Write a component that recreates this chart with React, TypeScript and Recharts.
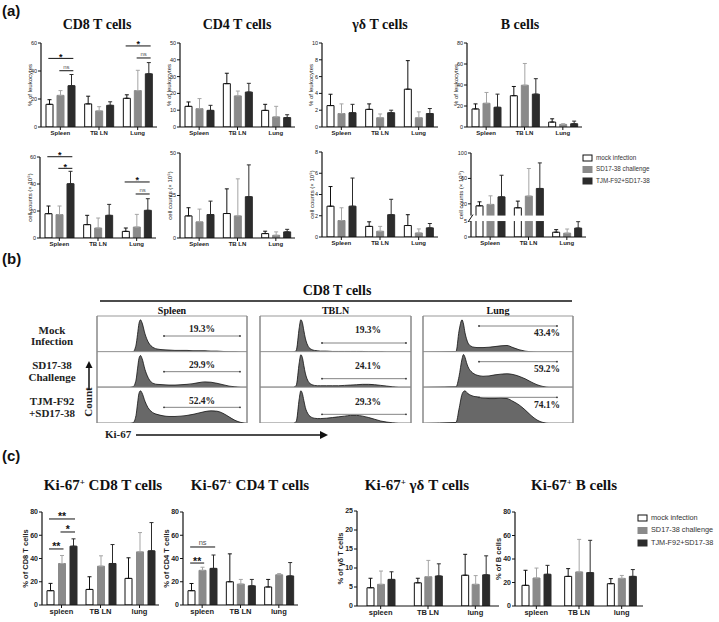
import React from "react";
import { BarChart, Bar, XAxis, YAxis, ErrorBar, AreaChart, Area } from "recharts";

const SANS = "'Liberation Sans', Arial, sans-serif";
const SERIF = "'Liberation Serif', 'Times New Roman', serif";

const groupsA = ["Spleen", "TB LN", "Lung"];
const groupsC = ["spleen", "TB LN", "lung"];
const seriesNames = ["mock infection", "SD17-38 challenge", "TJM-F92+SD17-38"];

const FILL = ["#ffffff", "#8a8a8a", "#2c2c2c"];
const STROKE = ["#111111", "#8a8a8a", "#2c2c2c"];
const ERRC = ["#111111", "#a5a5a5", "#2c2c2c"];

// (a) % of leukocytes -- rows: organ, cols: mock / SD17-38 / TJM-F92+SD17-38
const cd8Pct = [[16.2, 22.6, 29.5], [16.5, 11.5, 15.5], [20.5, 26, 38]];
const cd8PctSd = [[19.5, 26, 37.5], [22, 14.5, 18], [23, 40.5, 46]];
const cd4Pct = [[12.3, 10.9, 9.9], [25.8, 18.5, 20.8], [9.9, 6, 5.6]];
const cd4PctSd = [[14.9, 16.9, 12.9], [32, 21.4, 26], [13.5, 12.3, 7.3]];
const gdPct = [[2.55, 1.6, 1.7], [2.1, 1.1, 1.7], [4.5, 1.1, 1.6]];
const gdPctSd = [[3.9, 2.75, 2.7], [2.75, 1.55, 2.0], [7.9, 1.8, 2.2]];
const bPct = [[17.2, 22.6, 18.8], [29.8, 39.8, 31.3], [4.7, 2.5, 3.1]];
const bPctSd = [[22, 32.9, 31.3], [38.6, 60.5, 46], [7.8, 3.1, 5.6]];

// (a) cell counts
const cd8Cnt = [[18, 17.3, 40.2], [9.9, 7.4, 16.8], [4.9, 8.1, 20.5]];
const cd8CntSd = [[23.7, 23.7, 49.4], [16.8, 14.8, 24.9], [7.4, 17.5, 29.1]];
const cd4Cnt = [[13, 9.5, 13.8], [14.4, 13, 24.3], [2.6, 1.6, 3.6]];
const cd4CntSd = [[17.8, 17, 21.7], [28.9, 34.8, 43], [4, 3.6, 5.1]];
const gdCnt = [[2.9, 1.55, 2.9], [1.0, 0.54, 2.1], [1.08, 0.38, 0.86]];
const gdCntSd = [[4.75, 2.75, 5.55], [1.43, 1.0, 3.55], [2.1, 0.76, 1.27]];
const bCnt = [[16.9, 19.1, 31], [13.8, 32.2, 44.2], [1.5, 1.2, 2.8]];
const bCntSd = [[23.2, 32.6, 65], [24.3, 75.6, 84.4], [2.3, 2.5, 4.8]];

// (c) Ki-67+ fractions
const kiCd8 = [[12.3, 35.7, 50.6], [13.4, 33.4, 35.7], [22.9, 45.7, 46.6]];
const kiCd8Sd = [[18.6, 42.6, 56.9], [24.3, 42.3, 52], [40.6, 62.3, 70.9]];
const kiCd4 = [[12.3, 29.8, 31.5], [20, 18, 16.5], [15.5, 26, 25]];
const kiCd4Sd = [[18.5, 32.5, 43], [44, 22, 22], [22, 27, 36.5]];
const kiGd = [[4.8, 5.7, 7.0], [6.1, 7.7, 7.9], [8.1, 5.7, 8.2]];
const kiGdSd = [[7.3, 9.2, 9.0], [7.3, 12.0, 11.1], [13.6, 8.0, 13.2]];
const kiB = [[17.6, 23.8, 27], [25.2, 29, 28.4], [19, 23.5, 25.2]];
const kiBSd = [[30.4, 32.3, 34.6], [31.8, 56.7, 55.9], [23.3, 26, 31]];

// (b) Ki-67 histograms, x in % of the plot width, y in % of the row height
const histX = [0, 22, 24, 26, 27, 28, 29, 30, 32, 34, 36, 38, 40, 44, 48, 52, 56, 60, 64, 68, 72, 76, 80, 84, 88, 92, 96, 100];
const spleenMock = [0, 0, 1, 20, 50, 82, 92, 84, 52, 30, 18, 12, 9, 7, 6, 5, 5, 5, 4, 4, 4, 3, 3, 2, 1, 1, 0, 0];
const spleenSd = [0, 0, 1, 20, 52, 82, 90, 82, 50, 28, 15, 10, 8, 7, 6, 6, 7, 8, 10, 13, 15, 14, 11, 7, 3, 1, 0, 0];
const spleenTjm = [0, 0, 1, 22, 55, 85, 92, 86, 62, 44, 34, 28, 25, 21, 19, 19, 20, 22, 25, 29, 33, 35, 34, 28, 18, 8, 2, 0];
const lnMock = [0, 0, 5, 70, 92, 85, 62, 40, 16, 8, 5, 4, 3, 3, 2, 2, 2, 2, 2, 2, 1, 1, 1, 0, 0, 0, 0, 0];
const lnSd = [0, 0, 5, 70, 92, 85, 62, 40, 16, 8, 5, 4, 4, 4, 4, 4, 5, 6, 7, 8, 8, 7, 5, 3, 1, 0, 0, 0];
const lnTjm = [0, 0, 5, 70, 92, 85, 65, 45, 25, 17, 14, 13, 13, 14, 16, 18, 20, 22, 22, 20, 16, 11, 6, 3, 1, 0, 0, 0];
const lungMock = [0, 2, 60, 92, 80, 55, 38, 26, 17, 14, 13, 13, 13, 14, 16, 18, 19, 13, 7, 3, 1, 0, 0, 0, 0, 0, 0, 0];
const lungSd = [0, 1, 30, 80, 93, 85, 70, 58, 45, 38, 34, 32, 31, 32, 35, 37, 38, 36, 31, 24, 15, 7, 2, 0, 0, 0, 0, 0];
const lungTjm = [0, 2, 40, 82, 90, 92, 88, 84, 79, 76, 75, 73, 71, 70, 70, 71, 70, 62, 52, 38, 22, 9, 2, 0, 0, 0, 0, 0];
const gatePct = [["19.3%", "29.9%", "52.4%"], ["19.3%", "24.1%", "29.3%"], ["43.4%", "59.2%", "74.1%"]];

type Note = { k: number; a: number; b: number; v: number; t: string };
type PanelProps = {
  x: number; y: number; w: number; h: number;
  max: number; ticks: number[]; tickText?: string[];
  yLabel: string; cats: string[];
  mean: number[][]; sd: number[][];
  notes?: Note[]; fs: number; bold?: boolean; labelGap: number;
  gap?: number; map?: (v: number) => number; brk?: [number, number];
};

const YW = 34, PT = 14, PR = 6, XH = 16, BAR = 7;

function BarPanel(p: PanelProps) {
  const f = p.map || ((v: number) => v);
  const gap = p.gap ?? 4;
  const rows = p.cats.map((c, k) => {
    const r: Record<string, any> = { name: c };
    for (let i = 0; i < 3; i++) {
      const m = f(p.mean[k][i]);
      r["v" + i] = m;
      r["e" + i] = [0, f(p.sd[k][i]) - m];
    }
    return r;
  });
  const band = p.w / 3;
  const cx = (k: number, i: number) => YW + band * (k + 0.5) + (i - 1) * (BAR + gap);
  const py = (u: number) => PT + p.h * (1 - u / p.max);
  const fw = p.bold ? "bold" : "normal";
  const cw = YW + p.w + PR;
  const ch = PT + p.h + XH;
  return (
    <div style={{ position: "absolute", left: p.x - YW, top: p.y - PT, width: cw, height: ch }}>
      <BarChart width={cw} height={ch} data={rows} margin={{ top: PT, right: PR, bottom: 0, left: 0 }} barSize={BAR} barGap={gap}>
        <XAxis
          dataKey="name"
          height={XH}
          interval={0}
          tickSize={3}
          tickMargin={1}
          axisLine={{ stroke: "#111", strokeWidth: 1.2 }}
          tickLine={{ stroke: "#111" }}
          tick={{ fontSize: p.fs, fontWeight: "bold", fill: "#222", fontFamily: SANS }}
        />
        <YAxis
          width={YW}
          domain={[0, p.max]}
          ticks={p.ticks}
          interval={0}
          allowDataOverflow
          tickSize={3}
          tickMargin={1}
          axisLine={{ stroke: "#111", strokeWidth: 1.2 }}
          tickLine={{ stroke: "#111" }}
          tick={{ fontSize: p.fs - 0.5, fontWeight: fw, fill: "#222", fontFamily: SANS }}
          tickFormatter={(v: number) => (p.tickText ? p.tickText[p.ticks.indexOf(v)] : String(v))}
        />
        {[0, 1, 2].map((i) => (
          <Bar key={i} dataKey={"v" + i} fill={FILL[i]} stroke={STROKE[i]} strokeWidth={1} isAnimationActive={false}>
            <ErrorBar dataKey={"e" + i} width={2} stroke={ERRC[i]} strokeWidth={1} direction="y" isAnimationActive={false} />
          </Bar>
        ))}
      </BarChart>
      <svg width={cw} height={ch} style={{ position: "absolute", left: 0, top: 0, overflow: "visible", pointerEvents: "none" }}>
        {p.brk && (
          <g>
            <rect x={YW - 4} y={py(p.brk[1])} width={p.w + 2} height={py(p.brk[0]) - py(p.brk[1])} fill="#fff" />
            <line x1={YW - 3} y1={py(p.brk[0]) + 1} x2={YW + 2} y2={py(p.brk[1]) - 1} stroke="#111" strokeWidth={1} />
          </g>
        )}
        <text
          transform={`translate(${YW - p.labelGap},${PT + p.h / 2}) rotate(-90)`}
          textAnchor="middle"
          dominantBaseline="middle"
          fontSize={p.fs}
          fontWeight={fw}
          fontFamily={SANS}
          fill="#222"
        >
          {p.yLabel}
        </text>
        {(p.notes || []).map((n, j) => {
          const x1 = cx(n.k, n.a) - 1;
          const x2 = cx(n.k, n.b) + 2;
          const yy = py(n.v);
          const ns = n.t === "ns";
          return (
            <g key={j}>
              <line x1={x1} x2={x2} y1={yy} y2={yy} stroke="#111" strokeWidth={1} />
              <text
                x={(x1 + x2) / 2}
                y={ns ? yy - 2 : yy + 1.5}
                textAnchor="middle"
                fontSize={ns ? p.fs : p.fs + 3}
                fontWeight={ns ? "normal" : "bold"}
                fontFamily={SANS}
                fill={ns ? "#555" : "#111"}
              >
                {n.t}
              </text>
            </g>
          );
        })}
      </svg>
    </div>
  );
}

function Hist({ x, y, w, h, vals }: { x: number; y: number; w: number; h: number; vals: number[] }) {
  const data = histX.map((xx, i) => ({ x: xx, y: vals[i] }));
  return (
    <div style={{ position: "absolute", left: x, top: y }}>
      <AreaChart width={w} height={h} data={data} margin={{ top: 0, right: 0, bottom: 0, left: 0 }}>
        <XAxis dataKey="x" type="number" domain={[0, 100]} hide />
        <YAxis domain={[0, 100]} hide />
        <Area type="monotone" dataKey="y" stroke="#111" strokeWidth={0.8} fill="#686868" fillOpacity={1} isAnimationActive={false} />
      </AreaChart>
    </div>
  );
}

function Key({ x, y, dy, fs }: { x: number; y: number; dy: number; fs: number }) {
  return (
    <g>
      {seriesNames.map((n, i) => (
        <g key={n}>
          <rect x={x} y={y + i * dy - 3} width={9} height={6} fill={FILL[i]} stroke={STROKE[i]} strokeWidth={1} />
          <text x={x + 13} y={y + i * dy} fontSize={fs} dominantBaseline="middle" fontFamily={SANS} fill="#333">
            {n}
          </text>
        </g>
      ))}
    </g>
  );
}

// broken axis for B cell counts: 0-5 below the break, 20-100 above it
const bMap = (v: number) => (v <= 5 ? v * 3.2 : 20.5 + v * 0.6375);

const histCols = [
  { x: 97, w: 150, name: "Spleen", rows: [spleenMock, spleenSd, spleenTjm] },
  { x: 260, w: 151, name: "TBLN", rows: [lnMock, lnSd, lnTjm] },
  { x: 423, w: 150, name: "Lung", rows: [lungMock, lungSd, lungTjm] },
];
const ROW0 = 316, RH = 35.67;

export default function App() {
  const title = (t: React.ReactNode, cx: number, cy: number, fs: number) => (
    <div
      style={{
        position: "absolute", left: cx - 100, top: cy - fs * 0.6, width: 200, textAlign: "center",
        fontFamily: SERIF, fontWeight: "bold", fontSize: fs, lineHeight: 1.2 + "", color: "#111", whiteSpace: "nowrap",
      }}
    >
      {t}
    </div>
  );
  const sup = <sup style={{ fontSize: "0.6em", verticalAlign: "0.55em" }}>+</sup>;
  return (
    <div style={{ position: "absolute", left: 0, top: 0, width: 719, height: 622, background: "#fff", overflow: "hidden" }}>
      {title("CD8 T cells", 97, 25, 14)}
      {title("CD4 T cells", 237, 25, 14)}
      {title("γδ T cells", 380, 25, 14)}
      {title("B cells", 520, 25, 14)}

      <BarPanel x={41} y={43} w={116} h={84} max={60} ticks={[0, 20, 40, 60]} yLabel="% of leukocytes" cats={groupsA}
        mean={cd8Pct} sd={cd8PctSd} fs={6} labelGap={11}
        notes={[{ k: 0, a: 0, b: 2, v: 49, t: "*" }, { k: 0, a: 1, b: 2, v: 40.2, t: "ns" }, { k: 2, a: 0, b: 2, v: 57.9, t: "*" }, { k: 2, a: 1, b: 2, v: 49.3, t: "ns" }]} />
      <BarPanel x={180} y={43} w={115} h={84} max={50} ticks={[0, 10, 20, 30, 40, 50]} yLabel="% of leukocytes" cats={groupsA}
        mean={cd4Pct} sd={cd4PctSd} fs={6} labelGap={11} />
      <BarPanel x={322} y={43} w={116} h={84} max={10} ticks={[0, 2, 4, 6, 8, 10]} yLabel="% of leukocytes" cats={groupsA}
        mean={gdPct} sd={gdPctSd} fs={6} labelGap={11} />
      <BarPanel x={467} y={43} w={115} h={84} max={80} ticks={[0, 20, 40, 60, 80]} yLabel="% of leukocytes" cats={groupsA}
        mean={bPct} sd={bPctSd} fs={6} labelGap={11} />

      <BarPanel x={40} y={157} w={116} h={81} max={60} ticks={[0, 20, 40, 60]} yLabel="cell counts (× 10⁵)" cats={groupsA}
        mean={cd8Cnt} sd={cd8CntSd} fs={6} labelGap={10}
        notes={[{ k: 0, a: 0, b: 2, v: 60.2, t: "*" }, { k: 0, a: 1, b: 2, v: 51.6, t: "*" }, { k: 2, a: 0, b: 2, v: 41.5, t: "*" }, { k: 2, a: 1, b: 2, v: 32.6, t: "ns" }]} />
      <BarPanel x={180} y={153} w={115} h={85} max={50} ticks={[0, 25, 50]} yLabel="cell counts (× 10⁵)" cats={groupsA}
        mean={cd4Cnt} sd={cd4CntSd} fs={6} labelGap={10} />
      <BarPanel x={322} y={152} w={116} h={85} max={8} ticks={[0, 2, 4, 6, 8]} yLabel="cell counts (× 10⁵)" cats={groupsA}
        mean={gdCnt} sd={gdCntSd} fs={6} labelGap={10} />
      <BarPanel x={471} y={153} w={115} h={84} max={bMap(100)} ticks={[0, bMap(5), bMap(20), bMap(60), bMap(100)]}
        tickText={["0", "5", "20", "60", "100"]} yLabel="cell counts (× 10⁵)" cats={groupsA}
        mean={bCnt} sd={bCntSd} fs={6} labelGap={10} map={bMap} brk={[16, 21.5]} />

      {title("CD8 T cells", 337, 291, 14)}
      {histCols.map((c) => title(c.name, c.x + c.w / 2, 311, 10))}
      {histCols.map((c) =>
        c.rows.map((vals, r) => <Hist key={c.name + r} x={c.x} y={ROW0 + r * RH + 0.5} w={c.w} h={RH - 0.5} vals={vals} />)
      )}

      {title(<>Ki-67{sup} CD8 T cells</>, 103, 485, 15)}
      {title(<>Ki-67{sup} CD4 T cells</>, 250, 485, 15)}
      {title(<>Ki-67{sup} γδ T cells</>, 417, 485, 15)}
      {title(<>Ki-67{sup} B cells</>, 574, 485, 15)}

      <BarPanel x={42} y={512} w={117} h={93} max={80} ticks={[0, 20, 40, 60, 80]} yLabel="% of CD8 T cells" cats={groupsC}
        mean={kiCd8} sd={kiCd8Sd} fs={7.5} bold labelGap={16} gap={4.5}
        notes={[{ k: 0, a: 0, b: 2, v: 74, t: "**" }, { k: 0, a: 1, b: 2, v: 62.8, t: "*" }, { k: 0, a: 0, b: 1, v: 48.2, t: "**" }]} />
      <BarPanel x={183} y={512} w={115} h={93} max={80} ticks={[0, 20, 40, 60, 80]} yLabel="% of CD4 T cells" cats={groupsC}
        mean={kiCd4} sd={kiCd4Sd} fs={7.5} bold labelGap={16} gap={4}
        notes={[{ k: 0, a: 0, b: 2, v: 49.9, t: "ns" }, { k: 0, a: 0, b: 1, v: 36.1, t: "**" }]} />
      <BarPanel x={357} y={511} w={142} h={95} max={25} ticks={[0, 5, 10, 15, 20, 25]} yLabel="% of γδ T cells" cats={groupsC}
        mean={kiGd} sd={kiGdSd} fs={7.5} bold labelGap={16} gap={3.5} />
      <BarPanel x={515} y={512} w={128} h={94} max={80} ticks={[0, 20, 40, 60, 80]} yLabel="% of B cells" cats={groupsC}
        mean={kiB} sd={kiBSd} fs={7.5} bold labelGap={16} gap={4} />

      <svg width={719} height={622} style={{ position: "absolute", left: 0, top: 0, pointerEvents: "none" }}>
        <g fontFamily={SANS} fontWeight="bold" fontSize={15} fill="#111">
          <text x={2} y={16}>(a)</text>
          <text x={2} y={264}>(b)</text>
          <text x={2} y={461}>(c)</text>
        </g>
        <Key x={583} y={158} dy={11.5} fs={6.3} />
        <Key x={638} y={518} dy={12.5} fs={7.3} />

        <line x1={100} x2={572} y1={301} y2={301} stroke="#111" strokeWidth={1.5} />
        {histCols.map((c) => (
          <g key={c.name}>
            {[0, 1, 2].map((r) => (
              <line key={r} x1={c.x} x2={c.x + c.w} y1={ROW0 + r * RH} y2={ROW0 + r * RH} stroke="#999" strokeWidth={1} />
            ))}
            <line x1={c.x} x2={c.x} y1={ROW0} y2={ROW0 + 3 * RH} stroke="#888" strokeWidth={1.5} />
            <line x1={c.x + c.w} x2={c.x + c.w} y1={ROW0} y2={ROW0 + 3 * RH} stroke="#888" strokeWidth={1.5} />
          </g>
        ))}
        {gatePct.map((col, ci) =>
          col.map((t, r) => {
            const top = ROW0 + r * RH;
            const g =
              ci === 0 ? { x1: 164, x2: 240, ly: top + 20, tx: 202, ty: top + 14 }
              : ci === 1 ? { x1: 322, x2: 406, ly: top + 27, tx: 368, ty: top + 15 }
              : { x1: 479, x2: 557, ly: top + 10, tx: 547, ty: top + 18 };
            return (
              <g key={ci + "-" + r}>
                <line x1={g.x1} x2={g.x2} y1={g.ly} y2={g.ly} stroke="#666" strokeWidth={0.8} />
                <circle cx={g.x1} cy={g.ly} r={0.9} fill="#333" />
                <circle cx={g.x2} cy={g.ly} r={0.9} fill="#333" />
                <text x={g.tx} y={g.ty} textAnchor="middle" dominantBaseline="middle" fontFamily={SERIF} fontWeight="bold" fontSize={9.5} fill="#222">
                  {t}
                </text>
              </g>
            );
          })
        )}
        <g fontFamily={SERIF} fontWeight="bold" fontSize={11} fill="#222" textAnchor="middle" dominantBaseline="middle">
          <text x={52} y={331}>Mock</text>
          <text x={52} y={342}>Infection</text>
          <text x={52} y={366}>SD17-38</text>
          <text x={52} y={378}>Challenge</text>
          <text x={52} y={402}>TJM-F92</text>
          <text x={52} y={414}>+SD17-38</text>
          <text transform="translate(89,402) rotate(-90)">Count</text>
          <text x={105} y={435} textAnchor="start">Ki-67</text>
        </g>
        <line x1={89} x2={89} y1={390} y2={367} stroke="#111" strokeWidth={1.5} />
        <polygon points="89,361 85.5,368 92.5,368" fill="#111" />
        <line x1={136} x2={321} y1={435} y2={435} stroke="#111" strokeWidth={1.5} />
        <polygon points="328,435 320,431 320,439" fill="#111" />
      </svg>
    </div>
  );
}
